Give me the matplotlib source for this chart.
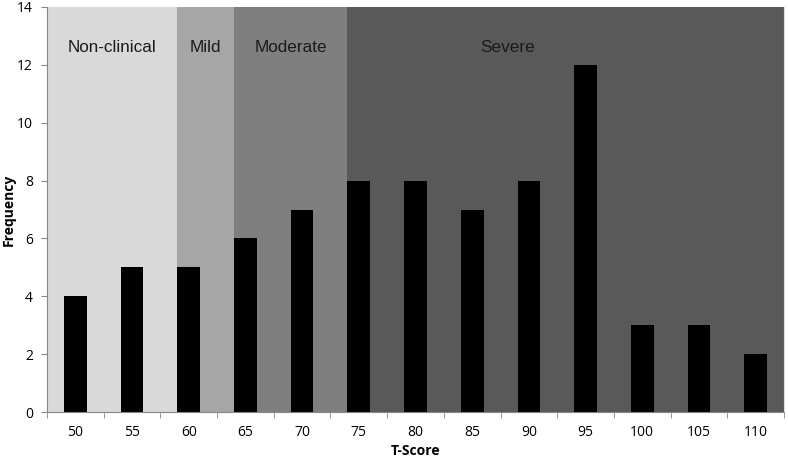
import numpy as np
import matplotlib.pyplot as plt

scores = [50, 55, 60, 65, 70, 75, 80, 85, 90, 95, 100, 105, 110]
freq = [4, 5, 5, 6, 7, 8, 8, 7, 8, 12, 3, 3, 2]

band_names = ['Non-clinical', 'Mild', 'Moderate', 'Severe']
band_edges = [-0.5, 1.8, 2.8, 4.8, 12.5]
band_colors = ['#d9d9d9', '#a6a6a6', '#7f7f7f', '#595959']
label_x = [0.65, 2.3, 3.8, 7.63]

fig = plt.figure(figsize=(7.88, 4.58), dpi=100)
ax = fig.add_axes([47/788, 46/458, 737/788, 405/458])

x = np.arange(len(scores))
for i in range(len(band_names)):
    ax.axvspan(band_edges[i], band_edges[i+1], color=band_colors[i], lw=0, zorder=0)
    ax.text(label_x[i], 12.6, band_names[i], ha='center', va='center',
            fontsize=12.3, color='#1a1a1a', family='Liberation Sans')

ax.bar(x, freq, width=0.4, color='black', zorder=2)

ax.set_xlim(-0.5, len(scores) - 0.5)
ax.set_ylim(0, 14)
ax.set_yticks(range(0, 15, 2))
ax.set_xticks(x)
ax.set_xticklabels([str(s) for s in scores])
ax.set_xticks(np.arange(-0.5, len(scores), 1), minor=True)
ax.tick_params(axis='x', which='major', length=0, pad=9)
ax.tick_params(axis='x', which='minor', length=4, color='#868686')
ax.tick_params(axis='y', length=4, color='#868686', pad=6)
for lab in ax.get_xticklabels() + ax.get_yticklabels():
    lab.set_fontsize(10)
    lab.set_family('Open Sans')

ax.spines['top'].set_visible(False)
ax.spines['right'].set_color('#e0e0e0')
ax.spines['left'].set_color('#868686')
ax.spines['bottom'].set_color('#868686')

ax.set_xlabel('T-Score', fontsize=10, fontweight='bold', family='Open Sans', labelpad=3)
ax.set_ylabel('Frequency', fontsize=10, fontweight='bold', family='Open Sans', va='center')
ax.yaxis.set_label_coords(-0.052, 0.5)

fig.savefig('out.png', dpi=100)
